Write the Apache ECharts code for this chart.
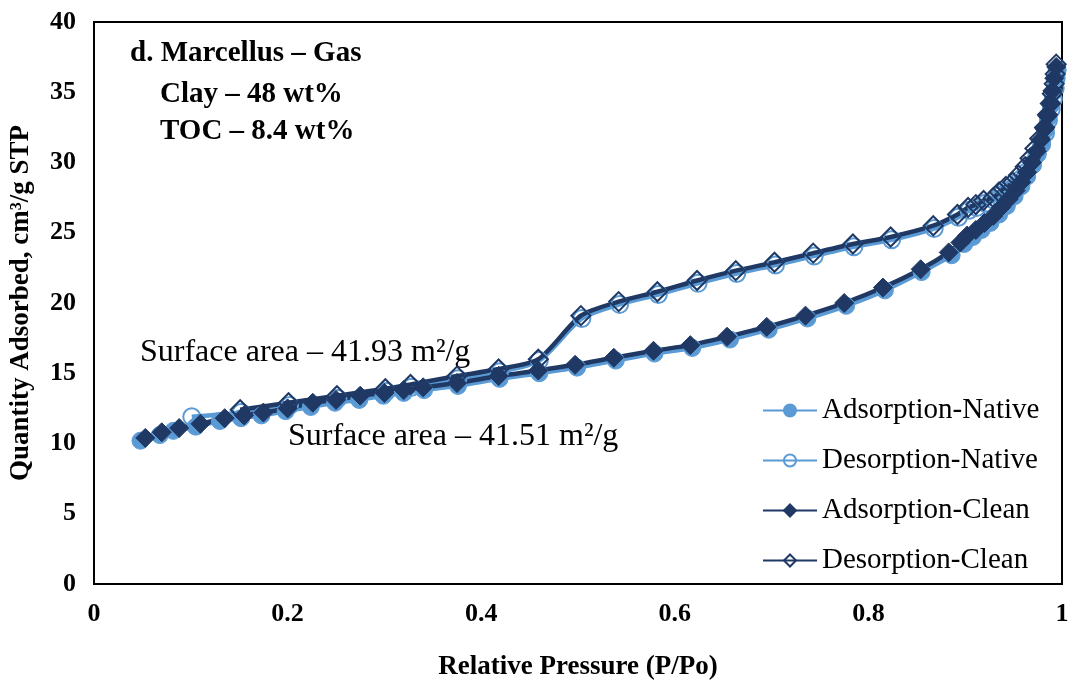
<!DOCTYPE html>
<html>
<head>
<meta charset="utf-8">
<script src="https://cdn.jsdelivr.net/npm/echarts@6/dist/echarts.min.js"></script>
<style>
html,body{margin:0;padding:0;background:#fff;}
#chart{width:1073px;height:683px;}
</style>
</head>
<body>
<div id="chart"></div>
<script>
// ---- data ----
const adsNativeP = [0.048,0.068,0.082,0.105,0.130,0.152,0.173,0.198,0.224,0.249,0.274,0.299,0.320,0.341,0.376,0.419,0.460,0.499,0.539,0.579,0.618,0.657,0.697,0.737,0.777,0.817,0.855,0.886,0.899,0.908,0.917,0.926,0.935,0.943,0.951,0.958,0.964,0.970,0.975,0.979,0.983,0.986,0.989,0.991,0.993,0.995];
const adsNativeQ = [10.2,10.6,10.9,11.2,11.6,11.8,12.0,12.3,12.6,12.9,13.1,13.4,13.6,13.8,14.1,14.6,15.0,15.4,15.9,16.4,16.8,17.4,18.1,18.9,19.8,20.9,22.2,23.4,24.2,24.7,25.2,25.7,26.3,26.9,27.6,28.3,29.0,29.8,30.6,31.4,32.3,33.2,34.1,35.0,35.9,36.6];

const desNativeP = [0.995,0.994,0.993,0.991,0.989,0.986,0.983,0.979,0.974,0.969,0.963,0.957,0.951,0.944,0.937,0.930,0.921,0.912,0.904,0.893,0.868,0.824,0.785,0.744,0.704,0.664,0.624,0.583,0.543,0.504,0.460,0.419,0.376,0.328,0.302,0.252,0.202,0.152,0.101];
const desNativeQ = [36.6,36.0,35.3,34.5,33.8,33.0,32.1,31.3,30.6,29.9,29.3,28.8,28.3,28.0,27.7,27.3,27.1,26.8,26.6,26.1,25.3,24.5,24.0,23.35,22.7,22.1,21.4,20.6,19.9,18.9,15.9,15.1,14.6,14.0,13.7,13.2,12.7,12.2,11.9];

const adsCleanP = [0.053,0.070,0.088,0.110,0.135,0.155,0.175,0.200,0.226,0.250,0.275,0.300,0.320,0.340,0.375,0.418,0.459,0.497,0.537,0.578,0.616,0.654,0.695,0.735,0.775,0.815,0.854,0.883,0.895,0.902,0.911,0.920,0.929,0.937,0.945,0.952,0.958,0.964,0.969,0.974,0.978,0.982,0.985,0.988,0.990,0.992,0.994];
const adsCleanQ = [10.4,10.8,11.1,11.4,11.8,12.0,12.2,12.5,12.9,13.1,13.4,13.6,13.8,14.0,14.3,14.8,15.2,15.6,16.1,16.6,17.0,17.6,18.3,19.1,20.0,21.1,22.4,23.6,24.3,24.8,25.2,25.7,26.2,26.8,27.4,28.0,28.6,29.3,30.0,30.8,31.6,32.4,33.3,34.2,35.1,36.0,36.8];

const desCleanP = [0.994,0.993,0.992,0.990,0.988,0.985,0.982,0.977,0.972,0.967,0.962,0.955,0.949,0.942,0.935,0.929,0.919,0.911,0.903,0.892,0.867,0.823,0.784,0.743,0.703,0.663,0.623,0.582,0.542,0.503,0.459,0.418,0.375,0.327,0.301,0.251,0.201,0.151];
const desCleanQ = [37.0,36.3,35.6,34.9,34.2,33.4,32.5,31.7,31.0,30.3,29.7,29.1,28.6,28.3,27.9,27.5,27.3,27.0,26.8,26.3,25.5,24.7,24.2,23.55,22.9,22.3,21.6,20.8,20.1,19.1,16.0,15.3,14.8,14.2,13.9,13.4,12.9,12.4];

const seriesNames = ['Adsorption-Native','Desorption-Native','Adsorption-Clean','Desorption-Clean'];
const xTicks = [0,0.2,0.4,0.6,0.8,1];
const yTicks = [0,5,10,15,20,25,30,35,40];
const annotLines = ['d. Marcellus \u2013 Gas','Clay \u2013 48 wt%','TOC \u2013 8.4 wt%'];
const surfaceLabels = ['Surface area \u2013 41.93 m\u00B2/g','Surface area \u2013 41.51 m\u00B2/g'];

// ---- chart ----
const LIGHT = '#5B9BD5';
const DARK = '#1F3864';
const FONT = '"Liberation Serif", "Times New Roman", serif';
const zip = (a,b) => a.map((v,i)=>[v,b[i]]);

const chart = echarts.init(document.getElementById('chart'), null, {renderer:'canvas'});

function mk(name, P, Q, color, symbol, size, filled){
  return {
    name, type:'line', data: zip(P,Q), smooth:0.25,
    symbol, symbolSize:size, showSymbol:true,
    lineStyle:{color, width:4.5},
    itemStyle: filled ? {color, borderColor:color, borderWidth:1}
                      : {color:'rgba(255,255,255,0)', borderColor:color, borderWidth:2},
    emphasis:{disabled:true},
    animation:false
  };
}

chart.setOption({
  backgroundColor:'#fff',
  animation:false,
  grid:{left:94, right:11, top:22, bottom:99, show:true, borderColor:'#000', borderWidth:2,
        containLabel:false, outerBoundsMode:'none'},
  xAxis:{
    type:'value', min:0, max:1, interval:0.2,
    axisLine:{show:true, onZero:false, lineStyle:{color:'#000', width:2}},
    axisTick:{show:false},
    splitLine:{show:false},
    axisLabel:{color:'#000', fontFamily:FONT, fontWeight:'bold', fontSize:26, margin:17,
      formatter:v=>{const t=xTicks.find(x=>Math.abs(x-v)<1e-9); return t===undefined?'':String(t);}},
    name:'Relative Pressure (P/Po)', nameLocation:'middle', nameGap:70,
    nameTextStyle:{color:'#000', fontFamily:FONT, fontWeight:'bold', fontSize:27}
  },
  yAxis:{
    type:'value', min:0, max:40, interval:5,
    axisLine:{show:true, onZero:false, lineStyle:{color:'#000', width:2}},
    axisTick:{show:false},
    splitLine:{show:false},
    axisLabel:{color:'#000', fontFamily:FONT, fontWeight:'bold', fontSize:26, margin:18,
      formatter:v=>yTicks.includes(v)?String(v):''},
    name:'Quantity Adsorbed, cm\u00B3/g STP', nameLocation:'middle', nameGap:59,
    nameTextStyle:{color:'#000', fontFamily:FONT, fontWeight:'bold', fontSize:27}
  },
  legend:{
    orient:'vertical', left:757, top:391,
    itemWidth:54, itemHeight:15, itemGap:21,
    textStyle:{color:'#000', fontFamily:FONT, fontSize:29},
    data:seriesNames
  },
  graphic:[
    {type:'text', x:130, y:54, style:{text:annotLines[0], font:'bold 29px '+FONT, fill:'#000', verticalAlign:'middle'}},
    {type:'text', x:160, y:95, style:{text:annotLines[1], font:'bold 29px '+FONT, fill:'#000', verticalAlign:'middle'}},
    {type:'text', x:160, y:132, style:{text:annotLines[2], font:'bold 29px '+FONT, fill:'#000', verticalAlign:'middle'}},
    {type:'text', x:140, y:353, style:{text:surfaceLabels[0], font:'32px '+FONT, fill:'#000', verticalAlign:'middle'}},
    {type:'text', x:288, y:437, style:{text:surfaceLabels[1], font:'32px '+FONT, fill:'#000', verticalAlign:'middle'}}
  ],
  series:[
    mk(seriesNames[0], adsNativeP, adsNativeQ, LIGHT, 'circle', 17, true),
    mk(seriesNames[1], desNativeP, desNativeQ, LIGHT, 'circle', 17, false),
    mk(seriesNames[2], adsCleanP, adsCleanQ, DARK, 'diamond', 19, true),
    mk(seriesNames[3], desCleanP, desCleanQ, DARK, 'diamond', 19, false)
  ]
});
</script>
</body>
</html>
